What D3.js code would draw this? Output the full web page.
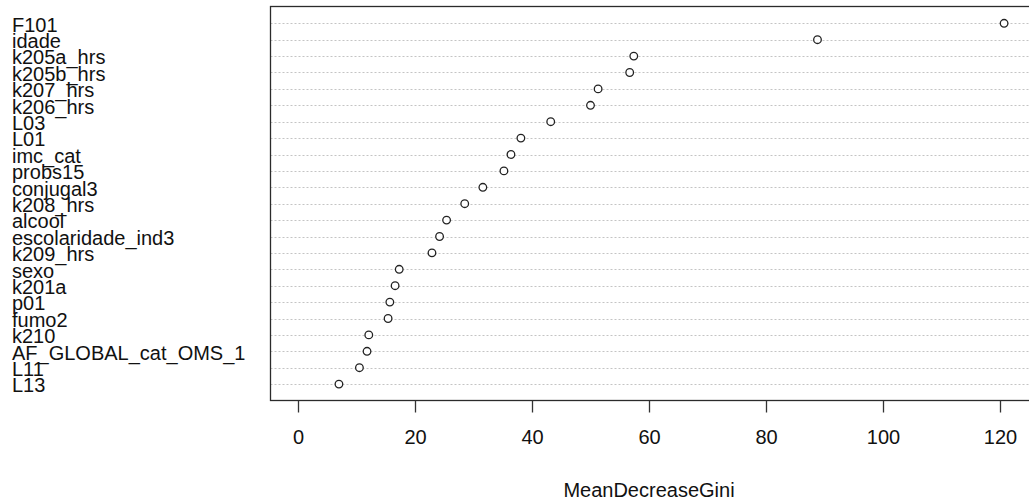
<!DOCTYPE html>
<html>
<head>
<meta charset="utf-8">
<script src="https://cdn.jsdelivr.net/npm/d3@7"></script>
<style>
  html, body { margin: 0; padding: 0; background: #fff; }
  svg { display: block; }
  text { font-family: "Liberation Sans", Arial, sans-serif; fill: #111; }
</style>
</head>
<body>
<svg id="chart" width="1029" height="502"></svg>
<script>
const variables = ["F101", "idade", "k205a_hrs", "k205b_hrs", "k207_hrs", "k206_hrs", "L03", "L01",
  "imc_cat", "probs15", "conjugal3", "k208_hrs", "alcool", "escolaridade_ind3", "k209_hrs", "sexo",
  "k201a", "p01", "fumo2", "k210", "AF_GLOBAL_cat_OMS_1", "L11", "L13"];
const meanDecreaseGini = [120.7, 88.8, 57.4, 56.7, 51.3, 50.0, 43.2, 38.1,
  36.4, 35.2, 31.6, 28.5, 25.4, 24.2, 22.9, 17.3,
  16.6, 15.7, 15.4, 12.1, 11.8, 10.5, 7.0];
const xTicks = [0, 20, 40, 60, 80, 100, 120];
const xTitle = "MeanDecreaseGini";

const data = variables.map((v, i) => ({ name: v, value: meanDecreaseGini[i] }));

const svg = d3.select("#chart");
const box = { left: 270.5, top: 6.5, bottom: 400.5, right: 1040 };

const x = d3.scaleLinear().domain([0, 120]).range([298, 1000]);
const y = d3.scalePoint().domain(variables).range([23.3, 384.1]);

// grid lines (dotted)
svg.append("g").selectAll("line").data(data).join("line")
  .attr("x1", box.left).attr("x2", 1029)
  .attr("y1", d => Math.round(y(d.name)) + 0.5).attr("y2", d => Math.round(y(d.name)) + 0.5)
  .attr("stroke", "#c4c4c4").attr("stroke-width", 1).attr("stroke-dasharray", "2,2");

// box
svg.append("rect")
  .attr("x", box.left).attr("y", box.top)
  .attr("width", box.right - box.left).attr("height", box.bottom - box.top)
  .attr("fill", "none").attr("stroke", "#2b2b2b").attr("stroke-width", 1.3);

// points
svg.append("g").selectAll("circle").data(data).join("circle")
  .attr("cx", d => x(d.value)).attr("cy", d => y(d.name))
  .attr("r", 3.8).attr("fill", "#fff").attr("stroke", "#222").attr("stroke-width", 1.3);

// y labels
svg.append("g").selectAll("text").data(data).join("text")
  .attr("x", 12).attr("y", d => y(d.name) + 8.3)
  .attr("font-size", 20).text(d => d.name);

// x axis
const axis = svg.append("g").attr("transform", `translate(0,${box.bottom})`)
  .call(d3.axisBottom(x).tickValues(xTicks).tickSize(12).tickPadding(17).tickFormat(d3.format("d")));
axis.select(".domain").remove();
axis.selectAll(".tick line").attr("stroke", "#333").attr("stroke-width", 1.3);
axis.selectAll(".tick text").attr("font-size", 20)
  .style("font-family", "'Liberation Sans', Arial, sans-serif").attr("fill", "#111");

svg.append("text")
  .attr("x", 649).attr("y", 497).attr("text-anchor", "middle")
  .attr("font-size", 20).text(xTitle);
</script>
</body>
</html>
